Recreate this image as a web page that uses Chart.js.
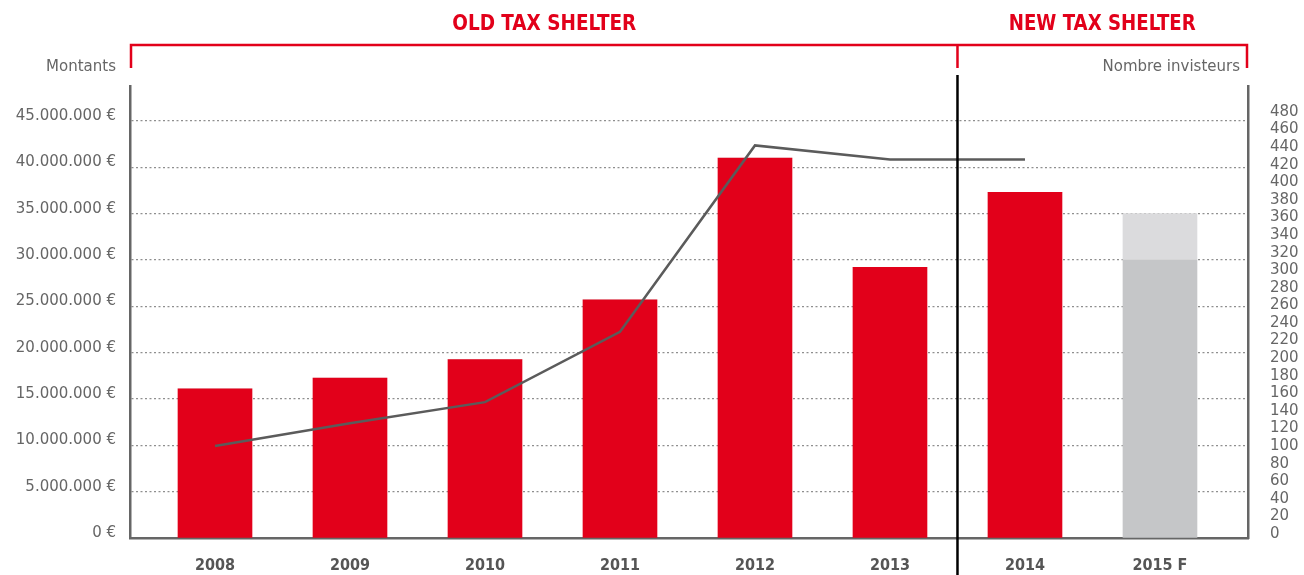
<!DOCTYPE html>
<html>
<head>
<meta charset="utf-8">
<script src="https://cdn.jsdelivr.net/npm/chart.js@4.4.1/dist/chart.umd.min.js"></script>
<style>
html,body{margin:0;padding:0;background:#fff;}
#wrap{position:relative;width:1304px;height:575px;overflow:hidden;}
canvas{display:block;}
</style>
</head>
<body>
<div id="wrap"><canvas id="c" width="1304" height="575"></canvas></div>
<script>
// ---- data ----
const categories = ['2008', '2009', '2010', '2011', '2012', '2013', '2014', '2015 F'];
const amounts = [16100000, 17250000, 19250000, 25700000, 41000000, 29200000, 37300000, 30000000];
const forecastExtra = [0, 0, 0, 0, 0, 0, 0, 5000000];
const investors = [100, 126, 150, 230, 442, 426, 426, null];
const amountTicks = [0, 5000000, 10000000, 15000000, 20000000, 25000000, 30000000, 35000000, 40000000, 45000000];
const investorTicks = [0, 20, 40, 60, 80, 100, 120, 140, 160, 180, 200, 220, 240, 260, 280, 300, 320, 340, 360, 380, 400, 420, 440, 460, 480];
const sectionTitles = ['OLD TAX SHELTER', 'NEW TAX SHELTER'];
const leftAxisTitle = 'Montants';
const rightAxisTitle = 'Nombre invisteurs';

// ---- style ----
const RED = '#e2001a';
const GREY_TEXT = '#666666';
const BAR_COLORS = categories.map((c, i) => i === categories.length - 1 ? '#c5c6c8' : RED);
const TICK_FONT = {family: '"DejaVu Sans", sans-serif', size: 15};
const CAT_FONT = {family: '"Liberation Sans Narrow", "DejaVu Sans Condensed", "Liberation Sans", sans-serif', size: 16, weight: 'bold'};
const TITLE_FONT = 'bold 22px "Liberation Sans Narrow", "DejaVu Sans Condensed", "Liberation Sans", sans-serif';

function fmtEuro(v) {
  if (v === 0) return '0 €';
  return String(Math.round(v)).replace(/\B(?=(\d{3})+(?!\d))/g, '.') + ' €';
}

const overlay = {
  id: 'overlay',
  afterDraw(chart) {
    const {ctx, chartArea: ca, scales} = chart;
    const xs = scales.x;
    const splitX = xs.getPixelForValue(5.5);
    const left = ca.left + 1, right = ca.right - 1;
    ctx.save();
    // vertical separator
    ctx.strokeStyle = '#000';
    ctx.lineWidth = 2.5;
    ctx.beginPath();
    ctx.moveTo(splitX, 75);
    ctx.lineTo(splitX, 575);
    ctx.stroke();
    // red brackets
    ctx.strokeStyle = RED;
    ctx.lineWidth = 2.5;
    ctx.beginPath();
    ctx.moveTo(left, 68); ctx.lineTo(left, 45); ctx.lineTo(right, 45); ctx.lineTo(right, 68);
    ctx.moveTo(splitX, 45); ctx.lineTo(splitX, 68);
    ctx.stroke();
    // section titles
    ctx.fillStyle = RED;
    ctx.font = TITLE_FONT;
    ctx.textAlign = 'center';
    ctx.textBaseline = 'middle';
    const centers = [(left + splitX) / 2, (splitX + right) / 2];
    const targetW = [184, 187];
    sectionTitles.forEach((t, i) => {
      const w = ctx.measureText(t).width;
      const sx = Math.max(0.7, Math.min(1.3, targetW[i] / w));
      ctx.save();
      ctx.translate(centers[i], 24);
      ctx.scale(sx, 1);
      ctx.fillText(t, 0, 0);
      ctx.restore();
    });
    // axis titles
    ctx.fillStyle = GREY_TEXT;
    ctx.font = '15px "DejaVu Sans", sans-serif';
    ctx.textAlign = 'right';
    ctx.fillText(leftAxisTitle, ca.left - 14, 67);
    ctx.fillText(rightAxisTitle, ca.right - 8, 67);
    ctx.restore();
  }
};

const ctx = document.getElementById('c').getContext('2d');
new Chart(ctx, {
  type: 'bar',
  data: {
    datasets: [
      {
        type: 'line',
        data: investors.map((v, i) => ({x: i, y: v})).filter(p => p.y !== null),
        yAxisID: 'y1',
        borderColor: '#5b5b5b',
        borderWidth: 2.5,
        pointRadius: 0,
        tension: 0,
        fill: false,
        order: 0
      },
      {
        data: amounts.map((v, i) => ({x: i, y: v})),
        backgroundColor: BAR_COLORS,
        yAxisID: 'y',
        barThickness: 74,
        stack: 'a',
        order: 1
      },
      {
        data: forecastExtra.map((v, i) => ({x: i, y: v})),
        backgroundColor: '#dbdbdd',
        yAxisID: 'y',
        barThickness: 74,
        stack: 'a',
        order: 2
      }
    ]
  },
  options: {
    responsive: false,
    animation: false,
    layout: {padding: {top: 86, left: 0, right: 0, bottom: 0}},
    plugins: {legend: {display: false}, tooltip: {enabled: false}},
    scales: {
      x: {
        type: 'linear',
        offset: false,
        min: -0.6296,
        max: 7.652,
        stacked: true,
        afterBuildTicks: s => { s.ticks = categories.map((c, i) => ({value: i})); },
        afterFit: s => { s.height = 37; },
        ticks: {
          callback: v => categories[v],
          autoSkip: false,
          maxRotation: 0,
          padding: 10,
          color: '#555555',
          font: CAT_FONT
        },
        grid: {display: false, offset: false},
        border: {display: true, color: '#666666', width: 2.5}
      },
      y: {
        position: 'left',
        stacked: true,
        min: 0,
        max: 48780000,
        afterBuildTicks: s => { s.ticks = amountTicks.map(v => ({value: v})); },
        afterFit: s => { s.width = 130; },
        ticks: {
          callback: v => fmtEuro(v),
          padding: 14,
          labelOffset: -5,
          color: GREY_TEXT,
          font: TICK_FONT
        },
        grid: {color: '#8f8f8f', lineWidth: 1.2, drawTicks: false},
        border: {display: true, color: '#666666', width: 2.5, dash: [2, 2.5]}
      },
      y1: {
        position: 'right',
        stacked: false,
        min: -4.55,
        max: 509.6,
        afterBuildTicks: s => { s.ticks = investorTicks.map(v => ({value: v})); },
        afterFit: s => { s.width = 56; },
        ticks: {
          padding: 22,
          color: GREY_TEXT,
          font: TICK_FONT,
          autoSkip: false
        },
        grid: {display: false, drawTicks: false},
        border: {display: true, color: '#666666', width: 2.5}
      }
    }
  },
  plugins: [overlay]
});
</script>
</body>
</html>
